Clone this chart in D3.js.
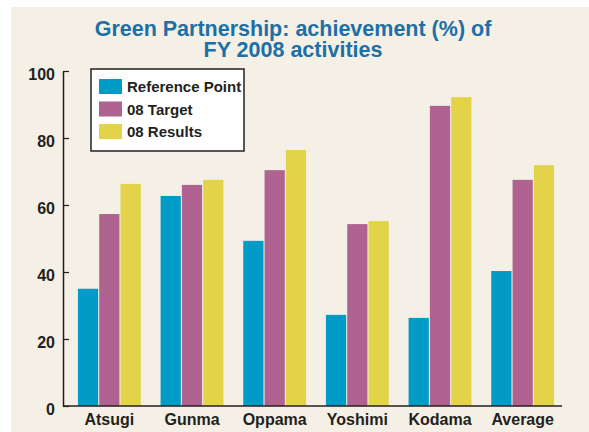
<!DOCTYPE html>
<html>
<head>
<meta charset="utf-8">
<script src="https://cdn.jsdelivr.net/npm/d3@7"></script>
<style>
  body { margin: 0; background: #fff; }
  text { font-family: "Liberation Sans", Arial, sans-serif; font-weight: bold; }
</style>
</head>
<body>
<div id="container"></div>
<script>
const sites = ["Atsugi", "Gunma", "Oppama", "Yoshimi", "Kodama", "Average"];
const seriesNames = ["Reference Point", "08 Target", "08 Results"];
const referencePoint = [35, 62.7, 49.3, 27.2, 26.3, 40.3];
const target08 = [57.3, 66, 70.4, 54.3, 89.6, 67.5];
const results08 = [66.3, 67.5, 76.4, 55.2, 92.2, 71.9];
const yTicks = [0, 20, 40, 60, 80, 100];
const titleLines = ["Green Partnership: achievement (%) of", "FY 2008 activities"];

const colors = ["#009bc6", "#b06291", "#e3d349"];
const ink = "#231f20";

const width = 589;
const height = 432;
const margin = { top: 71, right: 25, bottom: 26, left: 68 };

const svg = d3.select("#container").append("svg")
  .attr("width", width)
  .attr("height", height);

// panel background
svg.append("rect")
  .attr("x", 11).attr("y", 7)
  .attr("width", width - 11).attr("height", height - 7)
  .attr("fill", "#f4f0e5");

const table = sites.map((s, i) => ({
  site: s,
  values: [referencePoint[i], target08[i], results08[i]]
}));

const x = d3.scaleBand()
  .domain(sites)
  .range([margin.left, width - margin.right])
  .paddingInner(0.24)
  .paddingOuter(0.12);

const xSub = d3.scaleBand()
  .domain(d3.range(seriesNames.length))
  .range([0, x.bandwidth()])
  .paddingInner(0.05);

const y = d3.scaleLinear()
  .domain([0, 100])
  .range([height - margin.bottom, margin.top]);

const axisX = margin.left - 5;

// bars
svg.append("g")
  .selectAll("g")
  .data(table)
  .join("g")
  .attr("transform", d => `translate(${x(d.site)},0)`)
  .selectAll("rect")
  .data(d => d.values.map((v, k) => ({ k, v })))
  .join("rect")
  .attr("x", d => xSub(d.k))
  .attr("width", xSub.bandwidth())
  .attr("y", d => y(d.v))
  .attr("height", d => y(0) - y(d.v))
  .attr("fill", d => colors[d.k]);

// y axis
svg.append("g")
  .attr("transform", `translate(${axisX},0)`)
  .call(d3.axisLeft(y).tickValues(yTicks).tickSizeInner(-6).tickSizeOuter(0).tickPadding(8))
  .call(g => g.select(".domain").attr("stroke", ink).attr("stroke-width", 1.5))
  .call(g => g.selectAll(".tick line").attr("stroke", ink).attr("stroke-width", 1.2))
  .call(g => g.selectAll(".tick text")
    .attr("fill", ink)
    .attr("dy", "0.5em")
    .style("font-size", "16px")
    .style("font-family", "'Liberation Sans', Arial, sans-serif")
    .style("font-weight", "bold"));

// x axis
svg.append("g")
  .attr("transform", `translate(0,${y(0)})`)
  .call(d3.axisBottom(x).tickSize(0).tickPadding(8))
  .call(g => g.select(".domain").remove())
  .call(g => g.selectAll(".tick text")
    .attr("fill", ink)
    .style("font-size", "16px")
    .style("font-family", "'Liberation Sans', Arial, sans-serif")
    .style("font-weight", "bold"));

svg.append("line")
  .attr("x1", axisX).attr("x2", width - 27)
  .attr("y1", y(0)).attr("y2", y(0))
  .attr("stroke", ink)
  .attr("stroke-width", 1.5);

// title
svg.append("g")
  .selectAll("text")
  .data(titleLines)
  .join("text")
  .attr("x", 293)
  .attr("y", (d, i) => 36 + i * 21)
  .attr("text-anchor", "middle")
  .attr("fill", "#1c6fa7")
  .style("font-size", "21.5px")
  .text(d => d);

// legend
const legend = svg.append("g").attr("transform", "translate(91,69)");
legend.append("rect")
  .attr("width", 153).attr("height", 82)
  .attr("fill", "#fff")
  .attr("stroke", ink)
  .attr("stroke-width", 1.5);

const item = legend.selectAll("g.item")
  .data(seriesNames)
  .join("g")
  .attr("class", "item")
  .attr("transform", (d, i) => `translate(8,${10 + i * 22.5})`);

item.append("rect")
  .attr("width", 23).attr("height", 15)
  .attr("fill", (d, i) => colors[i]);

item.append("text")
  .attr("x", 28)
  .attr("y", 13)
  .attr("fill", ink)
  .style("font-size", "15px")
  .text(d => d);
</script>
</body>
</html>
